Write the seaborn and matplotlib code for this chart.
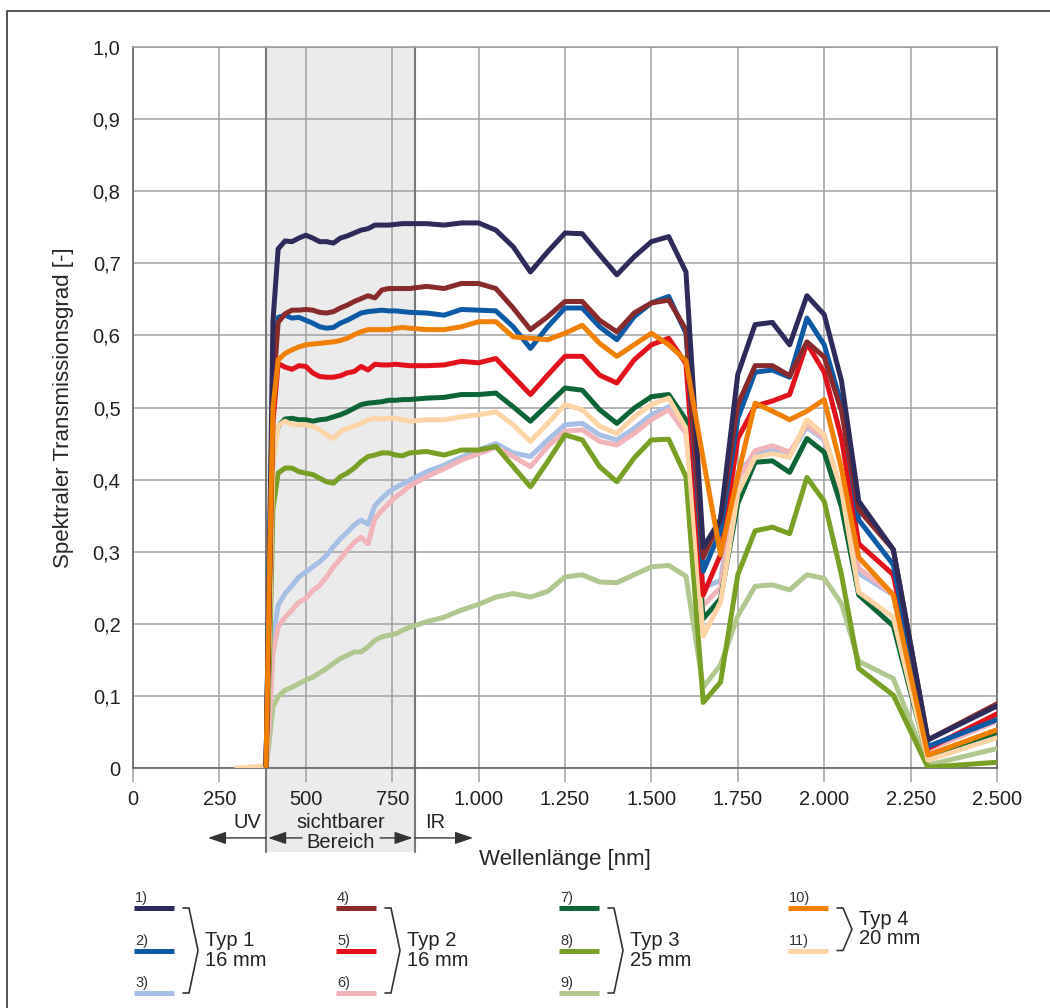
import numpy as np
import pandas as pd
import seaborn as sns
import matplotlib.pyplot as plt
from matplotlib.patches import Rectangle
from matplotlib.lines import Line2D

# Wellenlängen der Messpunkte [nm]
wl = [300, 385, 395, 405, 420,
      440, 460, 480, 500, 520, 540, 560, 580, 600, 620, 640, 660, 680, 700, 720, 740, 760, 780, 800,
      850, 900, 950,
      1000, 1050, 1100, 1150, 1200, 1250, 1300, 1350, 1400, 1450, 1500, 1550, 1600,
      1650, 1700, 1750, 1800, 1850, 1900, 1950, 2000, 2050, 2100,
      2200, 2300, 2500]

t1 = [None, 0.003, 0.30, 0.62, 0.72,
      0.731, 0.730, 0.735, 0.739, 0.735, 0.730, 0.730, 0.728, 0.735, 0.738, 0.742, 0.746, 0.748, 0.753, 0.753, 0.753, 0.754, 0.755, 0.755,
      0.755, 0.753, 0.756,
      0.756, 0.746, 0.723, 0.688, 0.716, 0.742, 0.741, 0.712, 0.684, 0.709, 0.730, 0.737, 0.688,
      0.306, 0.345, 0.546, 0.615, 0.618, 0.587, 0.655, 0.629, 0.537, 0.370,
      0.303, 0.039, 0.086]
t2 = [None, 0.003, 0.30, 0.55, 0.625,
      0.628, 0.624, 0.625, 0.621, 0.617, 0.612, 0.610, 0.611, 0.617, 0.621, 0.626, 0.631, 0.633, 0.634, 0.635, 0.634, 0.634, 0.633, 0.632,
      0.631, 0.628, 0.636,
      0.635, 0.634, 0.612, 0.582, 0.612, 0.638, 0.638, 0.612, 0.594, 0.626, 0.645, 0.654, 0.603,
      0.273, 0.329, 0.485, 0.549, 0.552, 0.542, 0.624, 0.587, 0.504, 0.344,
      0.282, 0.030, 0.067]
t3 = [None, 0.003, 0.08, 0.18, 0.226,
      0.242, 0.253, 0.265, 0.272, 0.279, 0.286, 0.295, 0.307, 0.318, 0.327, 0.337, 0.344, 0.338, 0.364, 0.374, 0.383, 0.389, 0.394, 0.399,
      0.411, 0.420, 0.431,
      0.441, 0.450, 0.437, 0.432, 0.455, 0.476, 0.478, 0.462, 0.455, 0.471, 0.490, 0.501, 0.473,
      0.250, 0.260, 0.410, 0.435, 0.440, 0.435, 0.473, 0.455, 0.380, 0.270,
      0.240, 0.025, 0.068]
t4 = [None, 0.003, 0.25, 0.52, 0.618,
      0.630, 0.635, 0.635, 0.636, 0.635, 0.632, 0.631, 0.633, 0.638, 0.642, 0.647, 0.651, 0.655, 0.652, 0.663, 0.665, 0.665, 0.665, 0.665,
      0.668, 0.665, 0.672,
      0.672, 0.665, 0.638, 0.608, 0.626, 0.647, 0.647, 0.621, 0.605, 0.631, 0.645, 0.649, 0.608,
      0.292, 0.345, 0.504, 0.558, 0.558, 0.544, 0.591, 0.570, 0.495, 0.358,
      0.303, 0.039, 0.089]
t5 = [None, 0.003, 0.25, 0.48, 0.561,
      0.556, 0.553, 0.558, 0.557, 0.548, 0.543, 0.542, 0.542, 0.544, 0.548, 0.550, 0.557, 0.552, 0.560, 0.559, 0.559, 0.560, 0.559, 0.558,
      0.558, 0.559, 0.564,
      0.562, 0.568, 0.543, 0.518, 0.545, 0.571, 0.571, 0.545, 0.534, 0.566, 0.587, 0.596, 0.561,
      0.240, 0.296, 0.457, 0.502, 0.509, 0.518, 0.589, 0.549, 0.457, 0.311,
      0.268, 0.027, 0.075]
t6 = [None, 0.003, 0.07, 0.16, 0.196,
      0.209, 0.219, 0.230, 0.235, 0.246, 0.253, 0.265, 0.279, 0.290, 0.302, 0.313, 0.320, 0.311, 0.346, 0.357, 0.367, 0.376, 0.383, 0.391,
      0.404, 0.415, 0.427,
      0.436, 0.445, 0.432, 0.418, 0.446, 0.467, 0.469, 0.453, 0.448, 0.464, 0.483, 0.497, 0.464,
      0.226, 0.250, 0.400, 0.440, 0.447, 0.438, 0.476, 0.457, 0.381, 0.277,
      0.240, 0.025, 0.065]
t7 = [None, 0.003, 0.30, 0.44, 0.474,
      0.484, 0.485, 0.483, 0.483, 0.481, 0.483, 0.484, 0.487, 0.490, 0.494, 0.499, 0.504, 0.506, 0.507, 0.508, 0.510, 0.510, 0.511, 0.511,
      0.513, 0.514, 0.518,
      0.518, 0.520, 0.501, 0.481, 0.504, 0.527, 0.524, 0.497, 0.478, 0.499, 0.515, 0.518, 0.483,
      0.207, 0.235, 0.367, 0.424, 0.426, 0.410, 0.457, 0.438, 0.362, 0.240,
      0.197, 0.013, 0.049]
t8 = [None, 0.003, 0.15, 0.36, 0.409,
      0.416, 0.416, 0.411, 0.409, 0.407, 0.402, 0.397, 0.395, 0.404, 0.409, 0.416, 0.425, 0.432, 0.434, 0.437, 0.437, 0.434, 0.433, 0.437,
      0.439, 0.434, 0.441,
      0.441, 0.446, 0.418, 0.390, 0.425, 0.462, 0.455, 0.418, 0.397, 0.430, 0.455, 0.456, 0.404,
      0.091, 0.119, 0.268, 0.329, 0.334, 0.325, 0.403, 0.370, 0.268, 0.138,
      0.101, 0.001, 0.008]
t9 = [None, 0.003, 0.04, 0.085, 0.099,
      0.108, 0.112, 0.117, 0.122, 0.126, 0.132, 0.138, 0.145, 0.152, 0.156, 0.161, 0.161, 0.168, 0.177, 0.182, 0.184, 0.186, 0.191, 0.195,
      0.203, 0.209, 0.219,
      0.227, 0.237, 0.242, 0.237, 0.245, 0.265, 0.268, 0.258, 0.257, 0.268, 0.279, 0.281, 0.266,
      0.112, 0.143, 0.211, 0.252, 0.254, 0.247, 0.268, 0.263, 0.228, 0.148,
      0.124, 0.004, 0.027]
t10 = [None, 0.003, 0.28, 0.50, 0.566,
       0.575, 0.580, 0.584, 0.587, 0.588, 0.589, 0.590, 0.591, 0.593, 0.596, 0.601, 0.605, 0.608, 0.608, 0.608, 0.608, 0.610, 0.611, 0.610,
       0.608, 0.608, 0.612,
       0.619, 0.619, 0.598, 0.596, 0.594, 0.603, 0.614, 0.589, 0.571, 0.587, 0.603, 0.587, 0.565,
       0.428, 0.296, 0.405, 0.506, 0.495, 0.483, 0.495, 0.511, 0.415, 0.292,
       0.240, 0.018, 0.053]
t11 = [0.0, 0.003, 0.20, 0.42, 0.475,
       0.481, 0.476, 0.476, 0.476, 0.474, 0.469, 0.462, 0.457, 0.467, 0.471, 0.474, 0.478, 0.483, 0.485, 0.484, 0.485, 0.485, 0.483, 0.481,
       0.483, 0.483, 0.487,
       0.490, 0.494, 0.476, 0.453, 0.478, 0.504, 0.497, 0.474, 0.464, 0.487, 0.504, 0.513, 0.471,
       0.183, 0.230, 0.381, 0.431, 0.436, 0.431, 0.483, 0.462, 0.386, 0.244,
       0.209, 0.011, 0.042]

kurven = ["1)", "2)", "3)", "4)", "5)", "6)", "7)", "8)", "9)", "10)", "11)"]
werte = [t1, t2, t3, t4, t5, t6, t7, t8, t9, t10, t11]
farben = ["#2d2a5c", "#0a5aa8", "#a6bfe6", "#8a2a2a", "#e2121a", "#f2b3b9",
          "#0c6535", "#77a024", "#b0c78d", "#f28000", "#fdd5a5"]
gruppen = [("Typ 1\n16 mm", ["1)", "2)", "3)"]),
           ("Typ 2\n16 mm", ["4)", "5)", "6)"]),
           ("Typ 3\n25 mm", ["7)", "8)", "9)"]),
           ("Typ 4\n20 mm", ["10)", "11)"])]
zeichenfolge = ["9)", "3)", "6)", "8)", "7)", "11)", "5)", "2)", "4)", "1)", "10)"]

x_ticks = [0, 250, 500, 750, 1000, 1250, 1500, 1750, 2000, 2250, 2500]
x_labels = ["0", "250", "500", "750", "1.000", "1.250", "1.500", "1.750", "2.000", "2.250", "2.500"]
y_ticks = [0, 0.1, 0.2, 0.3, 0.4, 0.5, 0.6, 0.7, 0.8, 0.9, 1.0]
y_labels = ["0", "0,1", "0,2", "0,3", "0,4", "0,5", "0,6", "0,7", "0,8", "0,9", "1,0"]

vis_von, vis_bis = 385, 815

rows = []
for k, vals in zip(kurven, werte):
    for w, v in zip(wl, vals):
        if v is not None:
            rows.append({"wl": w, "T": v, "kurve": k})
df = pd.DataFrame(rows)

sns.set_style("white")
plt.rcParams["font.family"] = ["Liberation Sans", "DejaVu Sans"]
plt.rcParams["text.color"] = "#222222"

W, H = 1050, 1008
fig = plt.figure(figsize=(W / 100, H / 100), dpi=100)
ax = fig.add_axes([133 / W, 1 - 768 / H, 864 / W, 721 / H])

lo = -0.117
ax.add_patch(Rectangle((vis_von, lo), vis_bis - vis_von, 1 - lo, facecolor="#ebebeb",
                       edgecolor="none", clip_on=False, zorder=0.2))
for xv in (vis_von, vis_bis):
    ax.plot([xv, xv], [lo, 1.0], color="#777777", lw=1.5, clip_on=False, zorder=1.5)

sns.lineplot(data=df, x="wl", y="T", hue="kurve", hue_order=zeichenfolge,
             palette=dict(zip(kurven, farben)), estimator=None, sort=False,
             lw=3.6, legend=False, ax=ax, zorder=3)

ax.set_xlim(0, 2500)
ax.set_ylim(0, 1.0)
ax.set_xticks(x_ticks)
ax.set_xticklabels(x_labels)
ax.set_yticks(y_ticks)
ax.set_yticklabels(y_labels)
ax.set_axisbelow(True)
ax.grid(True, color="#a0a0a0", lw=1.1)
ax.tick_params(axis="x", length=10, width=1.1, color="#a0a0a0", pad=5.5,
               labelsize=14.5, labelcolor="#222222", bottom=True)
ax.tick_params(axis="y", length=0, pad=9, labelsize=14.5, labelcolor="#222222", left=True)
for s in ax.spines.values():
    s.set_color("#666666")
    s.set_linewidth(1.2)
ax.spines["top"].set_color("#a0a0a0")

ax.set_xlabel("Wellenlänge [nm]", fontsize=16)
ax.xaxis.set_label_coords(0.5, -0.127)
ax.xaxis.label.set_verticalalignment("center")
ax.set_ylabel("Spektraler Transmissionsgrad [-]", fontsize=16)
ax.yaxis.set_label_coords(-0.08, 0.5)
ax.yaxis.label.set_verticalalignment("center")

# Bereichspfeile unter der Achse
pfeil = dict(arrowstyle="-|>,head_length=1.1,head_width=0.38", color="#333333", lw=1.0,
             shrinkA=0, shrinkB=0)
y_pf = -0.097
ax.annotate("", xy=(217, y_pf), xytext=(vis_von, y_pf), arrowprops=pfeil, annotation_clip=False)
ax.annotate("", xy=(vis_von + 6, y_pf), xytext=(489, y_pf), arrowprops=pfeil, annotation_clip=False)
ax.annotate("", xy=(vis_bis - 6, y_pf), xytext=(715, y_pf), arrowprops=pfeil, annotation_clip=False)
ax.annotate("", xy=(984, y_pf), xytext=(vis_bis, y_pf), arrowprops=pfeil, annotation_clip=False)
ax.text(332, -0.076, "UV", ha="center", va="center", fontsize=14.5, clip_on=False)
ax.text(600, -0.076, "sichtbarer", ha="center", va="center", fontsize=14.5, clip_on=False)
ax.text(600, -0.103, "Bereich", ha="center", va="center", fontsize=14.5, clip_on=False)
ax.text(873, -0.076, "IR", ha="center", va="center", fontsize=14.5, clip_on=False)

# Legende und Rahmen in Pixelkoordinaten
ov = fig.add_axes([0, 0, 1, 1], zorder=5)
ov.set_xlim(0, W)
ov.set_ylim(H, 0)
ov.axis("off")
ov.patch.set_alpha(0)
ov.add_line(Line2D([7, 7, W], [H, 11, 11], color="#444444", lw=1.3))

farbe_von = dict(zip(kurven, farben))
gx = [134, 336, 559, 788]
zeilen_y = [908, 950.5, 993]
for (titel, ks), x0 in zip(gruppen, gx):
    ys = zeilen_y[:len(ks)]
    for k, yy in zip(ks, ys):
        ov.plot([x0, x0 + 40], [yy, yy], color=farbe_von[k], lw=3.6, solid_capstyle="butt")
        ov.text(x0 + 1, yy - 3, k, fontsize=10.5, ha="left", va="bottom", color="#333333")
    bx = x0 + 49
    ym = (ys[0] + ys[-1]) / 2
    ov.plot([bx, bx + 6, bx + 15, bx + 6, bx], [ys[0], ys[0], ym, ys[-1], ys[-1]],
            color="#333333", lw=1.2)
    ov.text(bx + 22, ym, titel, fontsize=14.5, ha="left", va="center", linespacing=1.0)

fig.savefig("out.png", dpi=100)
